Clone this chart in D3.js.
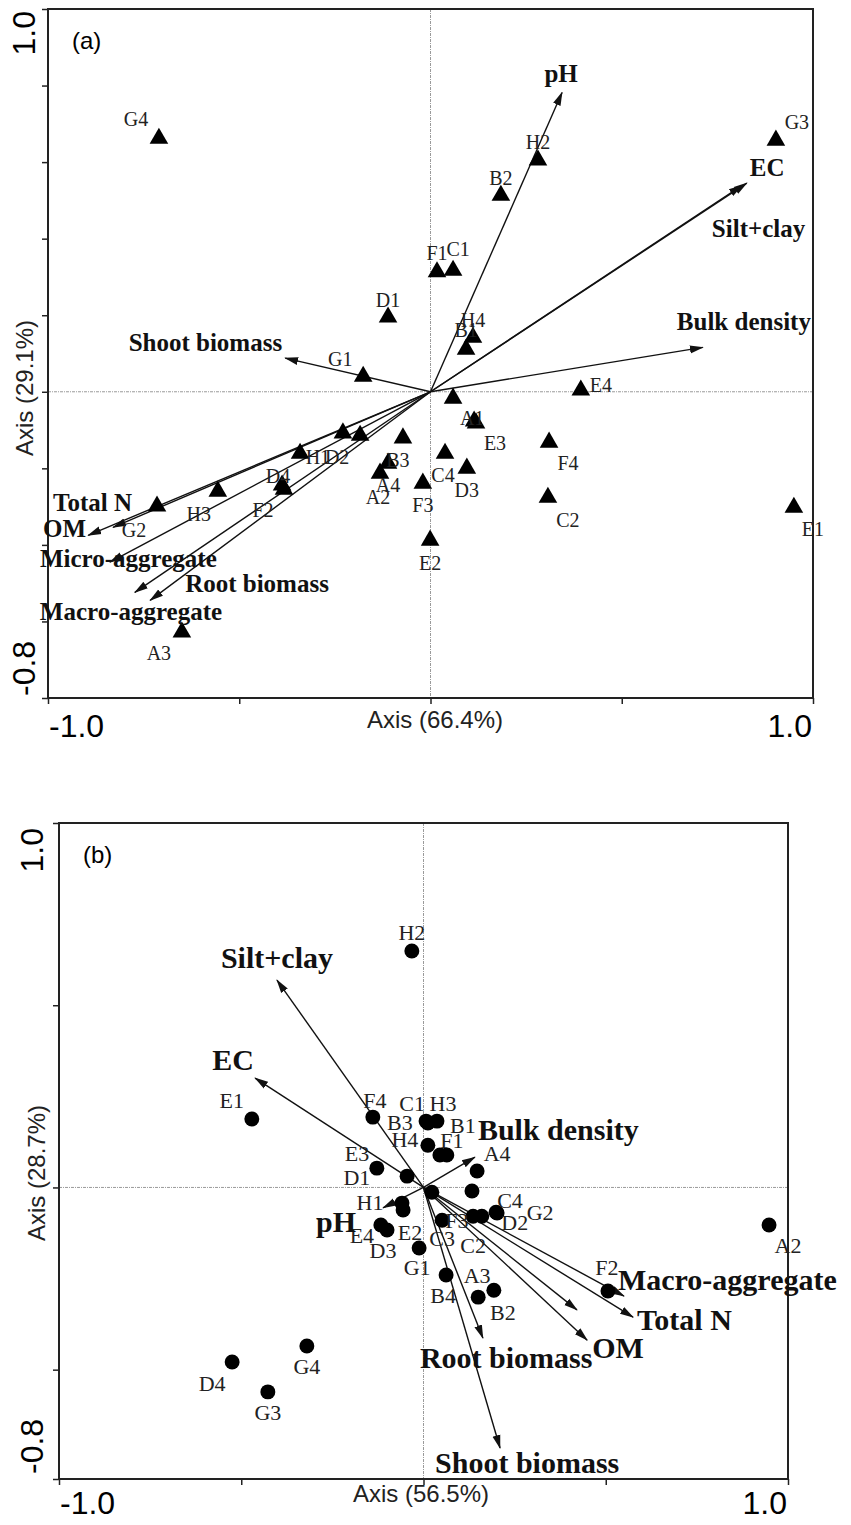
<!DOCTYPE html>
<html>
<head>
<meta charset="utf-8">
<script src="https://cdn.jsdelivr.net/npm/d3@7"></script>
<style>
  body { margin: 0; background: #fff; }
  .sans { font-family: "Liberation Sans", Arial, sans-serif; }
  .serif { font-family: "Liberation Serif", "Times New Roman", serif; }
</style>
</head>
<body>
<div id="chart"></div>
<script>
// sample names, same order in both panels
var samples = ["A1","A2","A3","A4","B1","B2","B3","B4","C1","C2","C3","C4","D1","D2","D3","D4",
               "E1","E2","E3","E4","F1","F2","F3","F4","G1","G2","G3","G4","H1","H2","H3","H4"];

// panel (a) sample scores
var aX = [0.114,-0.132,-0.650,-0.111, 0.093,0.184,-0.072,-0.341, 0.059,0.307,0.059,0.038,
          -0.111,-0.184,0.095,-0.388, 0.950,-0.001,0.119,0.393, 0.017,-0.383,-0.020,0.310,
          -0.176,-0.715,0.903,-0.710, -0.229,0.281,-0.556,0.111];
var aY = [-0.077,-0.213,-0.628,-0.187, 0.111,0.513,-0.121,-0.161, 0.317,-0.276,-0.017,-0.161,
          0.195,-0.114,-0.200,-0.244, -0.302,-0.388,-0.082,0.004, 0.313,-0.255,-0.239,-0.132,
          0.040,-0.299,0.657,0.662, -0.108,0.605,-0.260,0.142];

// panel (b) sample scores
var bX = [0.133,0.948,0.150,0.147, 0.064,0.193,0.012,0.062, 0.007,0.136,0.051,0.199,
          -0.128,0.160,-0.100,-0.525, -0.471,-0.056,-0.045,-0.117, 0.045,0.506,0.023,-0.139,
          -0.012,0.202,-0.427,-0.320, -0.059,-0.032,0.037,0.012];
var bY = [-0.010,-0.103,-0.301,0.045, 0.089,-0.282,0.177,-0.240, 0.182,-0.079,-0.090,-0.068,
          0.053,-0.079,-0.117,-0.479, 0.188,-0.062,0.031,-0.103, 0.089,-0.284,-0.013,0.193,
          -0.166,-0.070,-0.561,-0.435, -0.043,0.649,0.182,0.116];

// environmental variables (arrows)
var vars = ["pH","EC","Silt+clay","Bulk density","Shoot biomass","Total N","OM",
            "Micro-aggregate","Root biomass","Macro-aggregate"];
var aVarX = [0.344,0.827,0.814,0.712,-0.380,-0.830,-0.895,-0.838,-0.733,-0.773];
var aVarY = [0.782,0.545,0.539,0.116,0.088,-0.354,-0.375,-0.445,-0.545,-0.524];
var bVarX = [-0.111,-0.462,-0.402,0.141,0.210,0.575,0.449,0.421,0.163,0.550];
var bVarY = [-0.056,0.300,0.569,0.083,-0.715,-0.356,-0.419,-0.336,-0.413,-0.298];

// axis titles and tick labels
var aTitles = ["Axis (66.4%)", "Axis (29.1%)"];
var bTitles = ["Axis (56.5%)", "Axis (28.7%)"];
var xDomain = [-1, 1], yDomain = [-0.8, 1];
var xTickLabels = ["-1.0", "1.0"], yTickLabels = ["-0.8", "1.0"];
var aYTicks = [-0.8,-0.6,-0.4,-0.2,0,0.2,0.4,0.6,0.8,1.0];
var bYTicks = [-0.8,-0.5,0,0.5,1.0];
var xTicks = [-1,-0.5,0,0.5,1];

// label placement (pixel offsets from the mark), kept apart from the data
var aPtLab = {A1:[-2,-3],A2:[-2,24],A3:[-23,21],A4:[0,22],B1:[0,-19],B2:[0,-17],B3:[-5,22],B4:null,
  C1:[5,-21],C2:[20,23],C3:null,C4:[-2,22],D1:[0,-17],D2:[-23,22],D3:[0,22],D4:[-4,-9],
  E1:[19,22],E2:[0,23],E3:[19,20],E4:[20,-5],F1:[0,-19],F2:[-21,21],F3:[0,22],F4:[19,21],
  G1:[-23,-17],G2:[-23,24],G3:[21,-18],G4:[-23,-19],H1:[-25,24],H2:[0,-18],H3:[-19,23],H4:[0,-17]};
var bPtLab = {A1:null,A2:[19,20],A3:[-1,-22],A4:[20,-18],B1:[16,-30],B2:[9,22],B3:[-28,-1],B4:[-3,20],
  C1:[-14,-18],C2:[0,29],C3:[0,18],C4:[14,-12],D1:[-20,9],D2:[33,6],D3:[-4,20],D4:[-20,21],
  E1:[-20,-19],E2:[7,22],E3:[-50,-23],E4:[-19,10],F1:[12,-15],F2:[-1,-24],F3:[25,28],F4:[2,-17],
  G1:[-2,19],G2:[43,-1],G3:[0,20],G4:[0,20],H1:[-32,-1],H2:[0,-19],H3:[6,-18],H4:[-23,-6]};
var aVarLab = {"pH":[-1,-10,"middle"],"EC":[3,-7,"start"],"Silt+clay":[-30,52,"start"],
  "Bulk density":[-26,-17,"start"],"Shoot biomass":[-3,-7,"end"],"Total N":[-60,-16,"start"],
  "OM":[-2,2,"end"],"Micro-aggregate":[-70,5,"start"],"Root biomass":[35,-8,"start"],
  "Macro-aggregate":[-95,28,"start"]};
var bVarLab = {"pH":[-47,24,"middle"],"EC":[-22,-8,"middle"],"Silt+clay":[0,-12,"middle"],
  "Bulk density":[3,-17,"start"],"Shoot biomass":[-65,25,"start"],"Total N":[4,13,"start"],
  "OM":[5,18,"start"],"Micro-aggregate":null,"Root biomass":[-63,30,"start"],
  "Macro-aggregate":[-6,-6,"start"]};

var W = 851, H = 1525;
var svg = d3.select("#chart").append("svg")
    .attr("width", W).attr("height", H)
    .style("background", "#fff");

svg.append("defs").append("marker")
    .attr("id", "head")
    .attr("viewBox", "0 -5 14 10")
    .attr("refX", 13).attr("refY", 0)
    .attr("markerWidth", 14).attr("markerHeight", 10)
    .attr("markerUnits", "userSpaceOnUse")
    .attr("orient", "auto")
  .append("path")
    .attr("d", "M0,-4L14,0L0,4Z")
    .attr("fill", "#111");

function drawPanel(cfg) {
    var x = d3.scaleLinear().domain(xDomain).range([cfg.left, cfg.right]);
    var y = d3.scaleLinear().domain(yDomain).range([cfg.bottom, cfg.top]);
    var g = svg.append("g");

    // zero reference lines
    g.append("line")
        .attr("x1", x(0)).attr("x2", x(0)).attr("y1", y(1)).attr("y2", y(-0.8))
        .attr("stroke", "#9a9a9a").attr("stroke-width", 1).attr("stroke-dasharray", "3,1,1,1");
    g.append("line")
        .attr("x1", x(-1)).attr("x2", x(1)).attr("y1", y(0)).attr("y2", y(0))
        .attr("stroke", "#9a9a9a").attr("stroke-width", 1).attr("stroke-dasharray", "3,1,1,1");

    // ticks (labels drawn separately)
    g.append("g")
        .attr("transform", "translate(0," + cfg.bottom + ")")
        .call(d3.axisBottom(x).tickValues(xTicks).tickSize(6).tickFormat(""))
        .call(function (s) { s.select(".domain").remove(); s.selectAll("line").attr("stroke", "#222").attr("stroke-width", 1.5); });
    g.append("g")
        .attr("transform", "translate(" + cfg.left + ",0)")
        .call(d3.axisLeft(y).tickValues(cfg.yTicks).tickSize(6).tickFormat(""))
        .call(function (s) { s.select(".domain").remove(); s.selectAll("line").attr("stroke", "#222").attr("stroke-width", 1.5); });

    // frame
    g.append("rect")
        .attr("x", cfg.left).attr("y", cfg.top)
        .attr("width", cfg.right - cfg.left).attr("height", cfg.bottom - cfg.top)
        .attr("fill", "none").attr("stroke", "#222").attr("stroke-width", 2);

    // tick labels
    g.append("text").attr("class", "sans")
        .attr("x", x(-1) + 1).attr("y", cfg.xLabY)
        .attr("font-size", cfg.tickFont).attr("text-anchor", "start").text(xTickLabels[0]);
    g.append("text").attr("class", "sans")
        .attr("x", x(1) - 1).attr("y", cfg.xLabY)
        .attr("font-size", cfg.tickFont).attr("text-anchor", "end").text(xTickLabels[1]);
    g.append("text").attr("class", "sans")
        .attr("transform", "translate(" + cfg.yLabX + "," + (y(-0.8) - cfg.yLabInset) + ") rotate(-90)")
        .attr("font-size", cfg.tickFont).attr("text-anchor", "start").text(yTickLabels[0]);
    g.append("text").attr("class", "sans")
        .attr("transform", "translate(" + cfg.yLabX + "," + (y(1) + cfg.yLabInset) + ") rotate(-90)")
        .attr("font-size", cfg.tickFont).attr("text-anchor", "end").text(yTickLabels[1]);

    // axis titles
    g.append("text").attr("class", "sans")
        .attr("x", cfg.xTitleX).attr("y", cfg.xTitleY)
        .attr("font-size", cfg.titleFont).attr("text-anchor", "middle").attr("fill", "#222")
        .text(cfg.titles[0]);
    g.append("text").attr("class", "sans")
        .attr("transform", "translate(" + cfg.yTitleX + "," + cfg.yTitleY + ") rotate(-90)")
        .attr("font-size", cfg.titleFont).attr("text-anchor", "middle").attr("fill", "#222")
        .text(cfg.titles[1]);

    // panel letter
    g.append("text").attr("class", "sans")
        .attr("x", cfg.left + 24).attr("y", cfg.top + 40)
        .attr("font-size", 24).text(cfg.letter);

    // arrows
    var arrows = vars.map(function (v, i) { return { name: v, x: cfg.vx[i], y: cfg.vy[i] }; });
    g.selectAll(".arrow").data(arrows).enter().append("line")
        .attr("class", "arrow")
        .attr("x1", x(0)).attr("y1", y(0))
        .attr("x2", function (d) { return x(d.x); })
        .attr("y2", function (d) { return y(d.y); })
        .attr("stroke", "#111").attr("stroke-width", 1.4)
        .attr("marker-end", "url(#head)");

    // sample points
    var pts = samples.map(function (s, i) { return { name: s, x: cfg.px[i], y: cfg.py[i] }; });
    var sym = d3.symbol().type(cfg.symbol).size(cfg.symSize);
    g.selectAll(".pt").data(pts).enter().append("path")
        .attr("class", "pt")
        .attr("transform", function (d) { return "translate(" + x(d.x) + "," + y(d.y) + ")"; })
        .attr("d", sym)
        .attr("fill", "#000");

    g.selectAll(".ptlab").data(pts.filter(function (d) { return cfg.ptLab[d.name]; }))
        .enter().append("text")
        .attr("class", "serif ptlab")
        .attr("x", function (d) { return x(d.x) + cfg.ptLab[d.name][0]; })
        .attr("y", function (d) { return y(d.y) + cfg.ptLab[d.name][1]; })
        .attr("dy", "0.35em")
        .attr("text-anchor", "middle")
        .attr("font-size", cfg.ptFont)
        .attr("fill", "#222")
        .text(function (d) { return d.name; });

    // variable labels
    g.selectAll(".varlab").data(arrows.filter(function (d) { return cfg.varLab[d.name]; }))
        .enter().append("text")
        .attr("class", "serif varlab")
        .attr("x", function (d) { return x(d.x) + cfg.varLab[d.name][0]; })
        .attr("y", function (d) { return y(d.y) + cfg.varLab[d.name][1]; })
        .attr("text-anchor", function (d) { return cfg.varLab[d.name][2]; })
        .attr("font-size", cfg.varFont)
        .attr("font-weight", "bold")
        .attr("fill", "#111")
        .text(function (d) { return d.name; });
}

drawPanel({
    left: 48, right: 813, top: 9, bottom: 698,
    yTicks: aYTicks, titles: aTitles, letter: "(a)",
    px: aX, py: aY, vx: aVarX, vy: aVarY,
    ptLab: aPtLab, varLab: aVarLab,
    symbol: d3.symbolTriangle, symSize: 150,
    tickFont: 32, titleFont: 24, ptFont: 20, varFont: 25,
    xLabY: 737, yLabX: 35, yLabInset: 2,
    xTitleX: 435, xTitleY: 728, yTitleX: 33, yTitleY: 388
});

drawPanel({
    left: 59, right: 788, top: 823, bottom: 1479,
    yTicks: bYTicks, titles: bTitles, letter: "(b)",
    px: bX, py: bY, vx: bVarX, vy: bVarY,
    ptLab: bPtLab, varLab: bVarLab,
    symbol: d3.symbolCircle, symSize: 175,
    tickFont: 32, titleFont: 24, ptFont: 22, varFont: 30,
    xLabY: 1514, yLabX: 43, yLabInset: 5,
    xTitleX: 421, xTitleY: 1502, yTitleX: 45, yTitleY: 1173
});
</script>
</body>
</html>
